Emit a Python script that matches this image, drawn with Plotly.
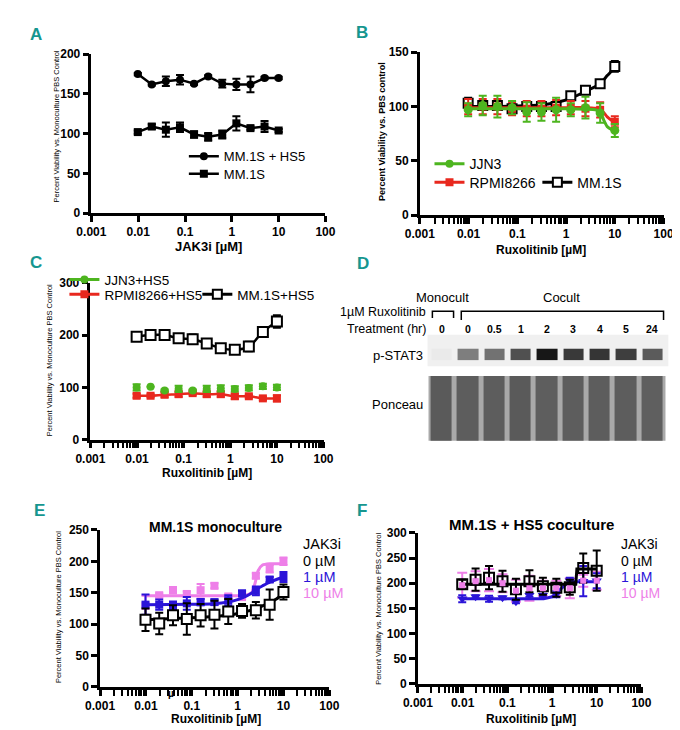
import math
import plotly.graph_objects as go

W, H = 680, 730


def fx(p):
    return p / W


def fy(p):
    return 1 - p / H


FONT = "Liberation Sans, Arial, sans-serif"
TEAL = "#16968f"
GREEN = "#4db51f"
RED = "#e8281e"
BLUE = "#2b14d8"
PINK = "#ee7fe8"

# ---------------- data ----------------
conc = [0.0098, 0.0195, 0.039, 0.078, 0.156, 0.3125, 0.625, 1.25, 2.5, 5, 10]

# Panel A
a_cocult = [175, 162, 166, 168, 163, 172, 163, 162, 162, 170, 170]
a_cocult_err = [1.5, 1.5, 6, 6, 1.5, 1.5, 5, 7, 10, 1.5, 1.5]
a_mono = [102, 109, 105, 108, 99, 96, 99, 113, 107, 109, 104]
a_mono_err = [2, 3, 9, 6, 4, 5, 5, 9, 2, 7, 2]

# Panel B
b_jjn3 = [97, 101, 100, 99, 95, 95, 97, 97, 99, 94, 78]
b_jjn3_err = [6, 9, 10, 6, 9, 8, 11, 6, 10, 9, 6]
b_rpmi = [100, 100, 100, 98, 98, 98, 99, 99, 98, 97, 86]
b_rpmi_err = [7, 7, 7, 6, 7, 7, 7, 6, 7, 7, 5]
b_mm1s = [103, 101, 101, 98, 100, 100, 100, 110, 115, 121, 137]
b_mm1s_err = [5, 4, 4, 4, 4, 4, 4, 2, 2, 3, 5]
b_fit_x = [0.0098, 0.1, 0.3, 0.6, 1.25, 2.5, 4, 5, 6, 7, 8.5, 10]
b_fit_mm1s = [100, 100.5, 101.5, 103.5, 107.5, 114, 118.5, 121.5, 125, 128.5, 132.5, 136]
b_fit_rpmi = [99, 99, 99, 99, 99, 99, 98.5, 97.5, 94, 90.5, 87.5, 86]
b_fit_jjn3 = [98, 98, 98, 98, 98, 97.5, 97, 94.5, 87, 81.5, 79, 78]

# Panel C
c_jjn3 = [100, 101, 94, 97, 94, 97, 98, 97, 99, 102, 100]
c_jjn3_err = [6, 0, 2, 6, 2, 6, 6, 5, 5, 5, 5]
c_rpmi = [84, 84, 86, 87, 89, 87, 87, 83, 83, 79, 79]
c_rpmi_err = [4, 3, 5, 5, 3, 5, 5, 5, 3, 3, 6]
c_mm1s = [197, 200, 200, 194, 192, 184, 175, 172, 178, 206, 226]
c_mm1s_err = [5, 8, 9, 7, 9, 6, 8, 8, 9, 8, 12]

# Panel D (western blot, relative band intensities)
lanes = ["0", "0", "0.5", "1", "2", "3", "4", "5", "24"]
pstat3 = [0.02, 0.5, 0.55, 0.7, 0.95, 0.8, 0.82, 0.78, 0.65]
ponceau = [0.66, 0.64, 0.64, 0.66, 0.63, 0.64, 0.64, 0.64, 0.62]

# Panel E
e0 = [107, 101, 114, 108, 114, 115, 120, 121, 122, 131, 151]
e0_err = [18, 17, 16, 25, 18, 22, 20, 11, 13, 24, 12]
e1 = [131, 131, 129, 133, 135, 135, 138, 149, 153, 171, 175]
e1_err = [16, 8, 7, 10, 5, 4, 8, 4, 7, 4, 8]
e10 = [129, 146, 154, 148, 154, 161, 144, 143, 177, 188, 200]
e10_err = [16, 3, 5, 4, 10, 4, 3, 3, 4, 6, 6]
e_fit_x = [0.0098, 0.1, 0.3, 0.6, 1.0, 1.5, 2.0, 2.4, 2.8, 3.5, 5, 7, 10]
e_fit0 = [107, 110, 112, 114, 117, 120, 122, 124, 126, 129, 134, 140, 148]
e_fit1 = [131, 131.5, 132.5, 135, 139, 144, 149, 153, 157, 161, 167, 171, 175]
e_fit10 = [145, 145, 145, 145, 145, 146, 150, 165, 185, 194, 196, 196, 196]

# Panel F
f0 = [198, 207, 211, 204, 188, 204, 194, 191, 192, 230, 225]
f0_err = [9, 22, 23, 21, 21, 22, 17, 18, 15, 29, 40]
f1 = [169, 173, 169, 171, 163, 176, 176, 178, 205, 204, 205]
f1_err = [7, 3, 6, 3, 3, 3, 3, 6, 6, 30, 15]
f10 = [196, 204, 206, 200, 185, 190, 190, 190, 190, 205, 205]
f10_err = [25, 20, 22, 18, 22, 25, 15, 15, 20, 12, 18]
f_fit0_x = [0.0098, 3.4, 3.6, 10]
f_fit0 = [198, 198, 228, 228]
f_fit1_x = [0.0098, 0.65, 1.0, 1.5, 2.2, 3.0, 10]
f_fit1 = [169, 169, 173, 186, 200, 203, 203]

# log minor tick positions (2..9 within each decade), in log10 units
minor_ticks_log = [math.log10(m) + e for e in range(-3, 2) for m in range(2, 10)]

# ---------------- figure ----------------
fig = go.Figure()


def err(arr, color, width=4, thick=2):
    return dict(type="data", array=arr, color=color, thickness=thick, width=width, visible=True)


def data_trace(x, y, e, xa, ya, color, symbol, size, mode="markers", line_color=None,
               fill=None, name=None, legend=None, showlegend=False, shape="linear", lw=2.5,
               ewidth=4):
    fig.add_trace(go.Scatter(
        x=x, y=y, xaxis=xa, yaxis=ya, mode=mode, name=name,
        showlegend=showlegend, legend=legend,
        error_y=err(e, color, ewidth) if e is not None else None,
        line=dict(color=line_color or color, width=lw, shape=shape),
        marker=dict(symbol=symbol, size=size, color=fill or color,
                    line=dict(color=color, width=2 if fill else 0)),
        cliponaxis=False,
    ))


def fit_trace(x, y, xa, ya, color, lw=3, shape="spline"):
    fig.add_trace(go.Scatter(x=x, y=y, xaxis=xa, yaxis=ya, mode="lines", showlegend=False,
                             line=dict(color=color, width=lw, shape=shape, smoothing=0.6),
                             cliponaxis=False))


def legend_only(name, color, symbol, legend, fill=None, size=8):
    fig.add_trace(go.Scatter(x=[None], y=[None], xaxis="x", yaxis="y", mode="lines+markers",
                             name=name, legend=legend, showlegend=True,
                             line=dict(color=color, width=3),
                             marker=dict(symbol=symbol, size=size, color=fill or color,
                                         line=dict(color=color, width=2 if fill else 0))))


# Panel A
data_trace(conc, a_cocult, a_cocult_err, "x", "y", "black", "circle", 8, mode="lines+markers",
           name="MM.1S + HS5", legend="legend", showlegend=True)
data_trace(conc, a_mono, a_mono_err, "x", "y", "black", "square", 8, mode="lines+markers",
           name="MM.1S", legend="legend2", showlegend=True)

# Panel B
fit_trace(b_fit_x, b_fit_mm1s, "x2", "y2", "black")
data_trace(conc, b_mm1s, b_mm1s_err, "x2", "y2", "black", "square", 9, fill="white")
fit_trace(b_fit_x, b_fit_rpmi, "x2", "y2", RED)
data_trace(conc, b_rpmi, b_rpmi_err, "x2", "y2", RED, "square", 8)
fit_trace(b_fit_x, b_fit_jjn3, "x2", "y2", GREEN)
data_trace(conc, b_jjn3, b_jjn3_err, "x2", "y2", GREEN, "circle", 9)
legend_only("JJN3", GREEN, "circle", "legend3")
legend_only("RPMI8266", RED, "square", "legend4")
legend_only("MM.1S", "black", "square", "legend5", fill="white", size=9)

# Panel C
data_trace(conc, c_mm1s, c_mm1s_err, "x3", "y3", "black", "square", 10, mode="lines+markers",
           fill="white", shape="spline")
data_trace(conc, c_rpmi, c_rpmi_err, "x3", "y3", RED, "square", 8, mode="lines+markers",
           shape="spline")
data_trace(conc, c_jjn3, c_jjn3_err, "x3", "y3", GREEN, "circle", 8)
legend_only("JJN3+HS5", GREEN, "circle", "legend6")
legend_only("RPMI8266+HS5", RED, "square", "legend7")
legend_only("MM.1S+HS5", "black", "square", "legend8", fill="white", size=9)

# Panel E
fit_trace(e_fit_x, e_fit10, "x4", "y4", PINK)
data_trace(conc, e10, e10_err, "x4", "y4", PINK, "square", 8)
fit_trace(e_fit_x, e_fit1, "x4", "y4", BLUE)
data_trace(conc, e1, e1_err, "x4", "y4", BLUE, "square", 8)
fit_trace(e_fit_x, e_fit0, "x4", "y4", "black")
data_trace(conc, e0, e0_err, "x4", "y4", "black", "square", 10, fill="white")

# Panel F
data_trace(conc, f10, f10_err, "x5", "y5", PINK, "square", 6, ewidth=5)
fit_trace(f_fit1_x, f_fit1, "x5", "y5", BLUE, shape="linear")
data_trace(conc, f1, f1_err, "x5", "y5", BLUE, "triangle-down", 9)
fit_trace(f_fit0_x, f_fit0, "x5", "y5", "black", shape="linear")
data_trace(conc, f0, f0_err, "x5", "y5", "black", "square", 10, fill="rgba(0,0,0,0)")
fig.add_trace(go.Scatter(x=conc, y=f10, xaxis="x5", yaxis="y5", mode="markers",
                         showlegend=False, marker=dict(symbol="square", size=6, color=PINK),
                         cliponaxis=False))

# Panel D blot
lane_idx = list(range(len(lanes)))
fig.add_trace(go.Heatmap(x=lane_idx, y=["p-STAT3"], z=[pstat3], xaxis="x6", yaxis="y6",
                         zmin=0, zmax=1, showscale=False, xgap=6, hoverinfo="skip",
                         colorscale=[[0, "#efefef"], [1, "#0c0c0c"]]))
fig.add_trace(go.Heatmap(x=lane_idx, y=["Ponceau"], z=[ponceau], xaxis="x7", yaxis="y7",
                         zmin=0, zmax=1, showscale=False, xgap=5, hoverinfo="skip",
                         colorscale=[[0, "#b0b0b0"], [1, "#2e2e2e"]]))

# ---------------- layout ----------------
tickfont = dict(family=FONT, size=12, color="black", weight="bold")


def xaxis(x0, x1, anchor, minor=True):
    d = dict(domain=[fx(x0), fx(x1)], anchor=anchor, type="log", range=[-3, 2],
             tickmode="linear", tick0=0, dtick=1, exponentformat="none",
             showline=True, linewidth=2.5,
             linecolor="black", ticks="outside", ticklen=6, tickwidth=2.5, tickcolor="black",
             tickfont=tickfont, showgrid=False, zeroline=False)
    if minor:
        d["minor"] = dict(ticks="outside", ticklen=6, tickwidth=2, tickcolor="black",
                          dtick="D1", showgrid=False)
    return d


def minor_axis(x0, x1, anchor):
    # linear axis in log10 units laid exactly over the log axis, ticks only
    return dict(domain=[fx(x0), fx(x1)], anchor=anchor, type="linear", range=[-3, 2],
                tickmode="array", tickvals=minor_ticks_log, showticklabels=False,
                ticks="outside", ticklen=6, tickwidth=2, tickcolor="black",
                showline=False, showgrid=False, zeroline=False)


def yaxis(y0, y1, anchor, top, step):
    return dict(domain=[fy(y1), fy(y0)], anchor=anchor, range=[0, top],
                tickvals=list(range(0, top + 1, step)), showline=True, linewidth=2.5,
                linecolor="black", ticks="outside", ticklen=6, tickwidth=2.5,
                tickcolor="black", tickfont=tickfont, showgrid=False, zeroline=False)


lay = dict(
    width=W, height=H, margin=dict(l=0, r=0, t=0, b=0),
    paper_bgcolor="white", plot_bgcolor="rgba(0,0,0,0)",
    font=dict(family=FONT, color="black"),
    xaxis=xaxis(71, 314, "y", minor=False), yaxis=yaxis(40, 202, "x", 200, 50),
    xaxis2=xaxis(412, 665, "y2"), yaxis2=yaxis(38, 204, "x2", 150, 50),
    xaxis3=xaxis(70, 312, "y3"), yaxis3=yaxis(273, 433, "x3", 300, 100),
    xaxis4=xaxis(80, 318, "y4"), yaxis4=yaxis(525, 685, "x4", 250, 50),
    xaxis5=xaxis(410, 642, "y5"), yaxis5=yaxis(528, 682, "x5", 300, 50),
    xaxis6=dict(domain=[fx(421), fx(667)], anchor="y6", range=[-0.5, 8.5], visible=False),
    yaxis6=dict(domain=[fy(352), fy(340)], anchor="x6", visible=False),
    xaxis7=dict(domain=[fx(421), fx(667)], anchor="y7", range=[-0.5, 8.5], visible=False),
    yaxis7=dict(domain=[fy(434), fy(368)], anchor="x7", visible=False),
)

# minor log ticks on panels B, C, E, F (tick-only axes over the same domains)
minor_specs = [(8, 412, 665, "y2"), (9, 70, 312, "y3"), (10, 80, 318, "y4"), (11, 410, 642, "y5")]
for k, x0, x1, yk in minor_specs:
    lay[f"xaxis{k}"] = minor_axis(x0, x1, yk)
    fig.add_trace(go.Scatter(x=[-1], y=[-1000], xaxis=f"x{k}", yaxis=yk, mode="markers",
                             showlegend=False, hoverinfo="skip", marker=dict(opacity=0)))

# one legend box per entry: (box left x, box centre y, font size)
leg_pos = {
    "legend": (167, 144, 13), "legend2": (167, 162, 13),
    "legend3": (422, 152, 14), "legend4": (422, 171, 14), "legend5": (534, 171, 14),
    "legend6": (43, 270, 13.5), "legend7": (43, 285, 13.5), "legend8": (181, 285, 13.5),
}
for key, (bx, by, fs) in leg_pos.items():
    lay[key] = dict(x=fx(bx), y=fy(by), xanchor="left", yanchor="middle",
                    bgcolor="rgba(0,0,0,0)", borderwidth=0, itemwidth=30,
                    font=dict(family=FONT, size=fs))

ann = []


def text(x, y, s, size, color="black", bold=False, angle=0, xanchor="center", xref="paper",
         xval=None):
    ann.append(dict(
        x=xval if xval is not None else fx(x), y=fy(y), xref=xref, yref="paper", text=s,
        showarrow=False, textangle=angle, xanchor=xanchor, yanchor="middle",
        font=dict(family=FONT, size=size, color=color, weight="bold" if bold else "normal")))


# panel labels
for lab, (lx, ly) in {"A": (14, 20), "B": (352, 18), "C": (13, 252), "D": (353, 253),
                      "E": (17, 505), "F": (352, 505)}.items():
    text(lx, ly, lab, 17, color=TEAL, bold=True)

# axis titles
text(193, 236, "JAK3i [µM]", 13, bold=True)
text(538, 240, "Ruxolitinib [µM]", 12, bold=True)
text(191, 467, "Ruxolitinib [µM]", 12, bold=True)
text(200, 718, "Ruxolitinib [µM]", 12, bold=True)
text(527, 718, "Ruxolitinib [µM]", 12, bold=True)
text(35, 114, "Percent Viability vs. Monoculture PBS Control", 7.5, angle=-90)
text(372, 119, "Percent Viability vs. PBS control", 9, bold=True, angle=-90)
text(27, 352, "Percent Viability vs. Monoculture PBS Control", 7.5, angle=-90)
text(37, 604, "Percent Viability vs. Monoculture PBS Control", 7.5, angle=-90)
text(369, 605, "Percent Viability vs. Monoculture PBS Control", 7.5, angle=-90)

# panel titles
text(200, 522, "MM.1S monoculture", 14, bold=True)
text(528, 519, "MM.1S + HS5 coculture", 15, bold=True)
text(154, 692, "µ", 10, bold=True)

# E / F JAK3i legends
for (lx, fs) in [(289, 14.5), (619, 14)]:
    text(lx, 539, "JAK3i", fs, xanchor="left")
    text(lx, 557, "0 µM", fs, xanchor="left")
    text(lx, 573, "1 µM", fs, color=BLUE, xanchor="left")
    text(lx, 589, "10 µM", fs, color=PINK, xanchor="left")

# Panel D texts
text(436, 288, "Monocult", 13)
text(559, 288, "Cocult", 13)
text(420, 303, "1µM Ruxolitinib", 12.5, xanchor="right")
text(420, 320, "Treatment (hr)", 12.5, xanchor="right")
text(417, 347, "p-STAT3", 13, xanchor="right")
text(417, 397, "Ponceau", 13, xanchor="right")
for i, lab in enumerate(lanes):
    text(0, 320, lab, 10.5, bold=True, xref="x6", xval=lane_idx[i])

lay["annotations"] = ann


def path(pts):
    return "M " + " L ".join(f"{fx(a):.5f},{fy(b):.5f}" for a, b in pts)


lay["shapes"] = [
    dict(type="rect", xref="paper", yref="paper", x0=fx(420), x1=fx(670), y0=fy(358),
         y1=fy(326), fillcolor="#f0f0f0", line=dict(width=0), layer="below"),
    dict(type="rect", xref="paper", yref="paper", x0=fx(421), x1=fx(667), y0=fy(434),
         y1=fy(368), fillcolor="#a9a9a9", line=dict(width=0), layer="below"),
    dict(type="path", xref="paper", yref="paper", path=path([(425, 309), (425, 302), (447, 302), (447, 309)]),
         line=dict(color="black", width=1.5)),
    dict(type="path", xref="paper", yref="paper", path=path([(455, 311), (455, 302), (665, 302), (665, 311)]),
         line=dict(color="black", width=1.5)),
]

fig.update_layout(**lay)
fig.write_html("out.html")
